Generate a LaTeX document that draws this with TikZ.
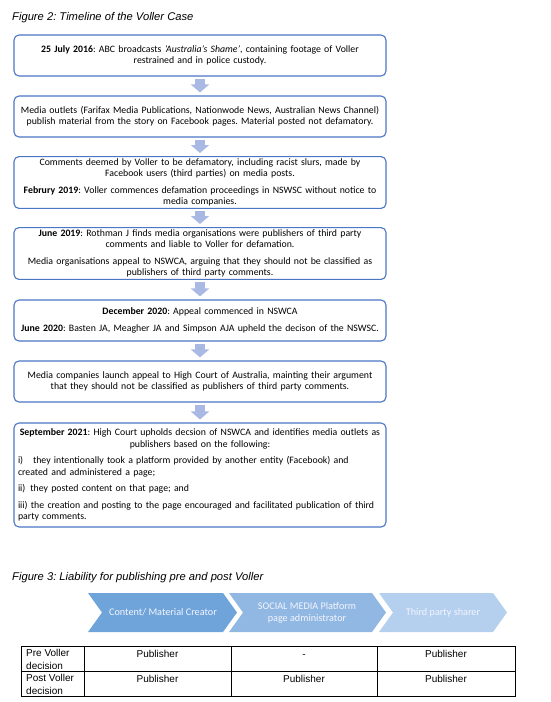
\documentclass[tikz,border=0pt]{standalone}
\usepackage{fontspec}
\setmainfont{Carlito}
\newfontfamily\arialfont{Liberation Sans}
\usetikzlibrary{arrows.meta}
\setlength{\parindent}{0pt}
\frenchspacing

\definecolor{boxblue}{HTML}{4A76C6}
\definecolor{arrowblue}{HTML}{AAB9E3}
\definecolor{chevone}{HTML}{6FA4DA}
\definecolor{chevtwo}{HTML}{90B8E2}
\definecolor{chevthree}{HTML}{B4D0EE}

\begin{document}
\begin{tikzpicture}[
  x=1pt,
  y=-1pt,
  eventbox/.style={draw=boxblue, line width=1.1pt, rounded corners=5pt, fill=white, minimum width=372pt, text width=364pt, inner xsep=4pt, inner ysep=2pt, font=\fontsize{9.8}{11.5}\selectfont},
  flowarrow/.style={draw=arrowblue, line width=10pt, -{Triangle[length=8pt, width=18pt]}},
  figtitle/.style={anchor=base west, inner sep=0pt, font=\arialfont\itshape\fontsize{11.2}{13}\selectfont},
  chevtext/.style={text=white!96!blue, align=center, inner sep=0pt, font=\fontsize{10.2}{12}\selectfont},
  cell/.style={anchor=base, inner sep=0pt, font=\arialfont\fontsize{10}{12.5}\selectfont},
  rowhead/.style={anchor=north west, align=left, inner sep=0pt, font=\arialfont\fontsize{10}{12.5}\selectfont}
]
\useasboundingbox (0,0) rectangle (550,702);

% Figure 2: timeline
\node[figtitle] (fig2) at (12,20) {Figure 2: Timeline of the Voller Case};

\node[eventbox, align=center, minimum height=41pt] (ev1) at (200,55.5) {\textbf{25 July 2016}: ABC broadcasts \textit{'Australia's Shame'}, containing footage of Voller\\ restrained and in police custody.};
\node[eventbox, align=center, minimum height=41pt] (ev2) at (200,116.5) {Media outlets (Farifax Media Publications, Nationwode News, Australian News Channel)\\ publish material from the story on Facebook pages. Material posted not defamatory.};
\node[eventbox, align=center, minimum height=51pt] (ev3) at (200,182.5) {Comments deemed by Voller to be defamatory, including racist slurs, made by\\ Facebook users (third parties) on media posts.\\[5pt] \textbf{Februry 2019}: Voller commences defamation proceedings in NSWSC without notice to\\ media companies.};
\node[eventbox, align=center, minimum height=51pt] (ev4) at (200,253.5) {\textbf{June 2019}: Rothman J finds media organisations were publishers of third party\\ comments and liable to Voller for defamation.\\[5pt] Media organisations appeal to NSWCA, arguing that they should not be classified as\\ publishers of third party comments.};
\node[eventbox, align=center, minimum height=41pt] (ev5) at (200,320.5) {\textbf{December 2020}: Appeal commenced in NSWCA\\[5pt] \textbf{June 2020}: Basten JA, Meagher JA and Simpson AJA upheld the decison of the NSWSC.};
\node[eventbox, align=center, minimum height=41pt] (ev6) at (200,381.5) {Media companies launch appeal to High Court of Australia, mainting their argument\\ that they should not be classified as publishers of third party comments.};
\node[eventbox, minimum height=104pt] (ev7) at (200,475) {{\centering\textbf{September 2021}: High Court upholds decsion of NSWCA and identifies media outlets as\\ publishers based on the following:\par}\vspace{5pt}\raggedright
i)\enspace\, they intentionally took a platform provided by another entity (Facebook) and\\ created and administered a page;\par\vspace{5pt}
ii)\enspace they posted content on that page; and\par\vspace{5pt}
iii) the creation and posting to the page encouraged and facilitated publication of third\\ party comments.\par};

\draw[flowarrow] ([yshift=-2pt]ev1.south) -- ([yshift=3pt]ev2.north);
\draw[flowarrow] ([yshift=-2pt]ev2.south) -- ([yshift=3pt]ev3.north);
\draw[flowarrow] ([yshift=-2pt]ev3.south) -- ([yshift=3pt]ev4.north);
\draw[flowarrow] ([yshift=-2pt]ev4.south) -- ([yshift=3pt]ev5.north);
\draw[flowarrow] ([yshift=-2pt]ev5.south) -- ([yshift=3pt]ev6.north);
\draw[flowarrow] ([yshift=-2pt]ev6.south) -- ([yshift=3pt]ev7.north);

% Figure 3: liability
\node[figtitle] (fig3) at (12,580) {Figure 3: Liability for publishing pre and post Voller};

\fill[chevone] (88,593) -- (223,593) -- (237,612.5) -- (223,632) -- (88,632) -- (102,612.5) -- cycle;
\fill[chevtwo] (229,593) -- (372,593) -- (386,612.5) -- (372,632) -- (229,632) -- (243,612.5) -- cycle;
\fill[chevthree] (379,593) -- (493,593) -- (507,612.5) -- (493,632) -- (379,632) -- (393,612.5) -- cycle;
\node[chevtext] (creator) at (163,612.5) {Content/ Material Creator};
\node[chevtext] (admin) at (307,612.5) {SOCIAL MEDIA Platform\\ page administrator};
\node[chevtext] (sharer) at (443,612.5) {Third party sharer};

\draw[line width=0.9pt] (21,646) rectangle (515,696);
\draw[line width=0.9pt] (21,671) -- (515,671);
\draw[line width=0.9pt] (84,646) -- (84,696);
\draw[line width=0.9pt] (231,646) -- (231,696);
\draw[line width=0.9pt] (377,646) -- (377,696);

\node[rowhead] (pre) at (26,649.5) {Pre Voller\\ decision};
\node[rowhead] (post) at (26,674.5) {Post Voller\\ decision};
\node[cell] (preone) at (157.5,657) {Publisher};
\node[cell] (pretwo) at (304,657) {-};
\node[cell] (prethree) at (446,657) {Publisher};
\node[cell] (postone) at (157.5,682) {Publisher};
\node[cell] (posttwo) at (304,682) {Publisher};
\node[cell] (postthree) at (446,682) {Publisher};
\end{tikzpicture}
\end{document}
